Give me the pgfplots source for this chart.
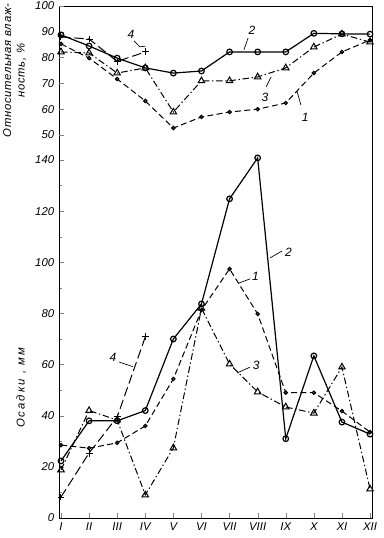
\documentclass[border=0pt]{standalone}
\usepackage{fontspec}
\setmainfont{Liberation Sans}
\usepackage{pgfplots}
\pgfplotsset{compat=1.18}
\pgfplotstableread{
m s1 s2 s3
1 28.5 22.3 18.8
2 27.3 38 42
3 29.4 38 38.3
4 36 42 9
5 54.4 70 27.4
6 81.3 83.7 82
7 97.4 124.8 60.2
8 79.8 140.8 49.3
9 49 31 43.4
10 49 63.4 41
11 41.8 37.5 59
12 33.6 32.8 11.3
}\precip
\pgfplotstableread{
m s4
1 8.2
2 25.4
3 39.5
4 70.8
}\precipfour
\pgfplotstableread{
m s1 s2 s3
1 85.3 88.8 82.2
2 79.8 84.5 81.8
3 71.7 79.8 74
4 63.2 76 76
5 52.7 74 58.9
6 57 74.8 71
7 58.9 82.2 71
8 60 82.2 72.5
9 62.4 82.2 76
10 74 89.4 84.1
11 82.2 89.2 89.1
12 86.8 89.1 86
}\humid
\pgfplotstableread{
m s4
1 88
2 87.2
3 78.5
4 82.2
}\humidfour
\begin{document}
\begin{tikzpicture}
\path[use as bounding box] (-44.25pt,-15pt) rectangle (243.75pt,388.5pt);
\pgfplotsset{
  every axis/.append style={
    scale only axis, width=234.75pt,
    xmin=0.929, xmax=12.07,
    tick align=inside,
    major tick length=3.5pt, minor tick length=2.2pt,
    ticklabel style={font=\fontsize{8.5}{9}\selectfont\itshape},
    /pgf/number format/assume math mode=true,
    label style={font=\fontsize{8.5}{10}\selectfont\itshape\addfontfeature{LetterSpace=6}},
    line width=0.6pt,
  },
  s1/.style={black, line width=0.75pt, dash pattern=on 4.5pt off 2.5pt, mark=*, mark size=1.3pt, mark options={solid, fill=black!70}},
  s2/.style={black, line width=0.9pt, mark=o, mark size=2.1pt, mark options={solid, fill=white}},
  s3/.style={black, line width=0.75pt, dash pattern=on 5pt off 2pt on 1pt off 2pt, mark=triangle, mark size=2.8pt, mark options={solid, fill=white}},
  s4/.style={black, line width=0.75pt, dash pattern=on 7pt off 3pt, mark=+, mark size=2.6pt, mark options={solid}},
}
\begin{axis}[name=b, at={(0,0)}, anchor=origin,
  height=384pt, ymin=0, ymax=200.2,
  xtick={1,...,12}, xticklabels={I,II,III,IV,V,VI,VII,VIII,IX,X,XI,XII},
  xtick pos=left, ytick pos=left,
  ytick={0,20,...,140}, minor ytick={10,30,...,130},
  ylabel={Осадки , мм},
  ylabel style={at={(ticklabel cs:0.254)}, font=\fontsize{8.5}{10}\selectfont\itshape\addfontfeature{LetterSpace=18}},
]
\addplot[s1] table[x=m,y=s1] {\precip};
\addplot[s2] table[x=m,y=s2] {\precip};
\addplot[s3] table[x=m,y=s3] {\precip};
\addplot[s4] table[x=m,y=s4] {\precipfour};
\draw[line width=0.5pt] (axis cs:8.44,101.7) -- (axis cs:8.87,104.4);
\node[font=\fontsize{9}{10}\selectfont\itshape] at (axis cs:9.1,104) {2};
\draw[line width=0.5pt] (axis cs:7.34,91.9) -- (axis cs:7.73,93.5);
\node[font=\fontsize{9}{10}\selectfont\itshape] at (axis cs:7.92,94.3) {1};
\draw[line width=0.5pt] (axis cs:7.27,56.7) -- (axis cs:7.73,59);
\node[font=\fontsize{9}{10}\selectfont\itshape] at (axis cs:7.95,59.5) {3};
\draw[line width=0.5pt] (axis cs:3.06,61) -- (axis cs:3.56,59.2);
\node[font=\fontsize{9}{10}\selectfont\itshape] at (axis cs:2.85,62.8) {4};
\end{axis}
\begin{axis}[at={(b.north west)}, anchor=north west,
  height=96.75pt, ymin=50, ymax=100,
  xtick=\empty, ytick={50,60,...,100}, ytick pos=left,
  axis line style={draw=none},
  ylabel={Относительная влаж-\\ность, \%},
  ylabel style={align=center},
]
\addplot[s1] table[x=m,y=s1] {\humid};
\addplot[s2] table[x=m,y=s2] {\humid};
\addplot[s3] table[x=m,y=s3] {\humid};
\addplot[s4] table[x=m,y=s4] {\humidfour};
\draw[line width=0.5pt] (axis cs:7.66,87.6) -- (axis cs:7.51,83);
\node[font=\fontsize{9}{10}\selectfont\itshape] at (axis cs:7.8,90.7) {2};
\draw[line width=0.5pt] (axis cs:8.3,68.6) -- (axis cs:8.48,72.5);
\node[font=\fontsize{9}{10}\selectfont\itshape] at (axis cs:8.26,64.7) {3};
\draw[line width=0.5pt] (axis cs:9.54,61.6) -- (axis cs:9.4,67);
\node[font=\fontsize{9}{10}\selectfont\itshape] at (axis cs:9.69,57) {1};
\draw[line width=0.5pt] (axis cs:3.6,86.5) -- (axis cs:3.8,84.2) -- (axis cs:4.0,84.4);
\node[font=\fontsize{9}{10}\selectfont\itshape] at (axis cs:3.49,89.1) {4};
\end{axis}
\end{tikzpicture}
\end{document}
